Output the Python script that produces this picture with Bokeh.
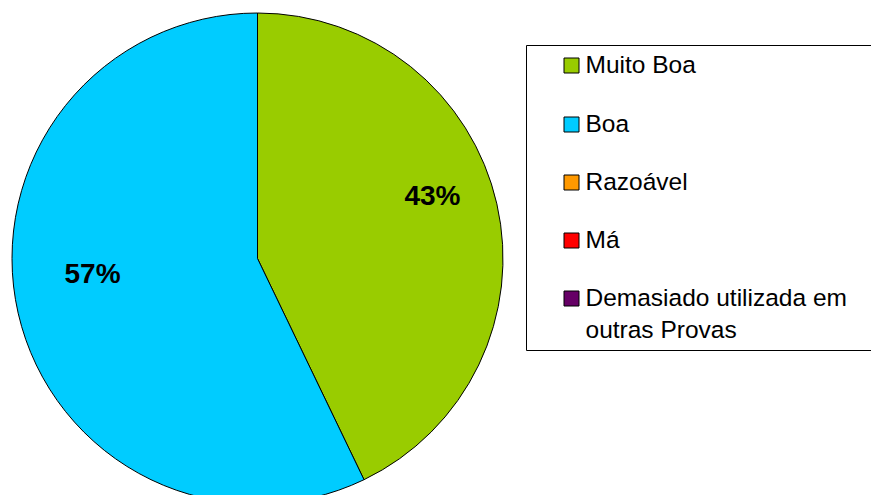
import math
import textwrap
from bokeh.plotting import figure
from bokeh.models import Range1d, ColumnDataSource
from bokeh.core.properties import value
from bokeh.embed import file_html
from bokeh.resources import INLINE

# ---- data ----
categories = ["Muito Boa", "Boa", "Razoável", "Má", "Demasiado utilizada em outras Provas"]
counts = [3, 4, 0, 0, 0]
colors = ["#99CC00", "#00CCFF", "#FF9900", "#FF0000", "#660066"]

# ---- layout (pixel-like data units) ----
W, H = 871, 495
p = figure(width=W, height=H, output_backend="svg", toolbar_location=None,
           x_axis_location=None, y_axis_location=None, min_border=0,
           x_range=Range1d(0, W), y_range=Range1d(0, H))
p.outline_line_color = None
p.grid.visible = False
p.background_fill_color = "white"

def sy(y):  # reference image y -> data y
    return H - y

def sx(x):
    return x

cx, cy, R = sx(257), sy(258), 245.5
total = float(sum(counts))

# wedges (clockwise from 12 o'clock)
starts, ends, cols, mids, fracs = [], [], [], [], []
cum = 0.0
for c, col in zip(counts, colors):
    f = c / total
    a0 = math.pi / 2 - cum * 2 * math.pi
    a1 = math.pi / 2 - (cum + f) * 2 * math.pi
    cum += f
    if c > 0:
        starts.append(a0)
        ends.append(a1)
        cols.append(col)
        mids.append((a0 + a1) / 2)
        fracs.append(f)

wsrc = ColumnDataSource(dict(x=[cx] * len(starts), y=[cy] * len(starts),
                             start=starts, end=ends, color=cols))
p.wedge(x="x", y="y", radius=R, start_angle="start", end_angle="end",
        direction="clock", fill_color="color", line_color="black",
        line_width=1, source=wsrc)

# percentage labels
lr = 0.71 * R
lx = [cx + lr * math.cos(m) + 5 for m in mids]
ly = [cy + lr * math.sin(m) + 24 for m in mids]
lt = ["%d%%" % round(f * 100) for f in fracs]
p.text(x=lx, y=ly, text=lt, text_font=value("Liberation Sans"),
       text_font_style="bold", text_font_size="28px", text_color="black",
       text_align="center", text_baseline="middle")

# legend box (right edge falls outside the picture)
bl, bt, bb, br = sx(526), sy(45), sy(350), W + 50
p.quad(left=bl, right=br, top=bt, bottom=bb,
       fill_color="white", line_color=None)
p.multi_line(xs=[[br, bl, bl, br]], ys=[[bt, bt, bb, bb]],
             line_color="black", line_width=1)

item_y = [65, 124, 182, 240, 298]
sq_x = sx(571)
p.rect(x=[sq_x] * len(categories), y=[sy(v) for v in item_y], width=15, height=15,
       fill_color=colors, line_color="black", line_width=1)

tx, ty, tt = [], [], []
for cat, yy in zip(categories, item_y):
    lines = textwrap.wrap(cat, 22)
    for i, ln in enumerate(lines):
        tx.append(sx(585))
        ty.append(sy(yy - 1 + i * 32))
        tt.append(ln)
p.text(x=tx, y=ty, text=tt, text_font=value("Liberation Sans"),
       text_font_size="24.5px", text_color="black",
       text_align="left", text_baseline="alphabetic")

open("out.html", "w").write(file_html(p, INLINE))
